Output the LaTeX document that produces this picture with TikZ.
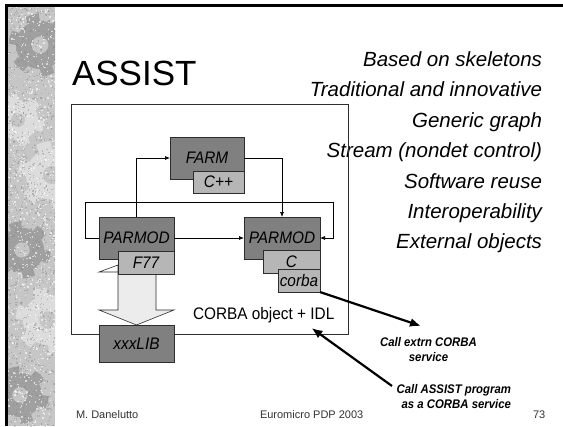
\documentclass[tikz,border=0pt]{standalone}
\usepackage{fontspec}
\setmainfont{Liberation Sans}
\newfontfamily\diagfont[FakeStretch=0.92]{Liberation Sans}
\newfontfamily\notefont[FakeStretch=0.91]{Liberation Sans}
\usetikzlibrary{arrows.meta}
\definecolor{boxdark}{RGB}{128,128,128}
\definecolor{boxlight}{RGB}{182,182,182}
\definecolor{shaft}{RGB}{236,236,236}
\definecolor{edge}{RGB}{45,45,45}
\definecolor{stripbase}{RGB}{198,198,198}
\definecolor{geardark}{RGB}{160,160,160}
\definecolor{gearlight}{RGB}{220,220,220}

% a toothed wheel for the decorative side strip: x, y, radius, colour
\newcommand{\cogwheel}[4]{%
  \fill[#4, shift={(#1,#2)}] plot[domain=0:360, samples=145]
    (\x:{#3+0.3*#3*(sin(6*\x)>0)}) -- cycle;
  \fill[stripbase, shift={(#1,#2)}] (0,0) circle ({0.35*#3});
}

\begin{document}
\begin{tikzpicture}[x=1bp, y=-1bp,
  every node/.style={inner sep=0pt, outer sep=0pt},
  modbox/.style={draw=edge, line width=0.7bp, fill=boxdark,
    font=\diagfont\fontsize{16.7bp}{18bp}\selectfont\itshape},
  langbox/.style={draw=edge, line width=0.7bp, fill=boxlight,
    font=\diagfont\fontsize{16.7bp}{18bp}\selectfont\itshape},
  flow/.style={draw=black, line width=0.7bp, -{Latex[length=5bp,width=4bp]}},
  callout/.style={draw=black, line width=2.2bp, -{Latex[length=11bp,width=9bp]}},
  bullet/.style={anchor=base east, font=\fontsize{20.5bp}{24bp}\selectfont\itshape},
  foot/.style={anchor=base west, font=\fontsize{11bp}{13bp}\selectfont, text=black!80}
]
\useasboundingbox (0,0) rectangle (563,426);
\fill[white] (0,0) rectangle (563,426);

% textured side strip
\begin{scope}
  \clip (7,6) rectangle (55,426);
  \fill[stripbase] (7,6) rectangle (55,426);
  \cogwheel{40}{45}{24}{geardark}
  \cogwheel{18}{120}{20}{gearlight}
  \cogwheel{52}{175}{26}{gearlight}
  \cogwheel{22}{250}{22}{geardark}
  \cogwheel{48}{320}{25}{gearlight}
  \cogwheel{20}{395}{22}{geardark}
  \pgfmathsetseed{7}
  \foreach \i in {1,...,1100}{
    \fill[black!45, opacity=0.45] ({7+48*rnd},{6+420*rnd}) rectangle ++(1.3,1.3);
  }
  \foreach \i in {1,...,800}{
    \fill[white, opacity=0.6] ({7+48*rnd},{6+420*rnd}) rectangle ++(1.3,1.3);
  }
\end{scope}

% slide frame
\draw[line width=2.5bp] (5,5.5) -- (563,5.5);
\draw[line width=2.5bp] (6.5,4.5) -- (6.5,426);

% title and bullet list
\node[anchor=base west, font=\fontsize{35bp}{40bp}\selectfont] (title) at (72,85) {ASSIST};
\node[bullet] (b1) at (542,66.5)  {Based on skeletons};
\node[bullet] (b2) at (542,96.5)  {Traditional and innovative};
\node[bullet] (b3) at (542,127)   {Generic graph};
\node[bullet] (b4) at (542,157.5) {Stream (nondet control)};
\node[bullet] (b5) at (542,188)   {Software reuse};
\node[bullet] (b6) at (542,218)   {Interoperability};
\node[bullet] (b7) at (542,248)   {External objects};

% program frame
\draw[edge, line width=0.8bp] (71,104) rectangle (348,334);

% block arrow from the F77 module down to the library
\draw[edge, fill=white, line width=0.6bp] (99,272) -- (118,265) -- (118,272) -- cycle;
\draw[edge, fill=shaft, line width=0.6bp]
  (118,272) -- (118,310) -- (99,310) -- (136.5,325) -- (174,310) -- (156,310) -- (156,272);

% modules
\node[modbox,  minimum width=74bp, minimum height=42bp] (farm) at (207,158)    {FARM};
\node[langbox, minimum width=51bp, minimum height=22bp] (cpp)  at (218.5,182)  {C++};
\node[modbox,  minimum width=75bp, minimum height=42bp] (pm1)  at (136.5,238)  {PARMOD};
\node[langbox, minimum width=56bp, minimum height=23bp] (f77)  at (146,262.5)  {F77};
\node[modbox,  minimum width=76bp, minimum height=42bp] (pm2)  at (282,238)    {PARMOD};
\node[langbox, minimum width=57bp, minimum height=23bp] (cl)   at (291.5,261.5){C};
\node[langbox, minimum width=42bp, minimum height=23bp] (corba) at (299,280.5) {corba};
\node[modbox,  minimum width=75bp, minimum height=37bp] (lib)  at (136.5,343.5){xxxLIB};

\node[anchor=base west, font=\diagfont\fontsize{16.7bp}{18bp}\selectfont] (idl) at (193,319) {CORBA object + IDL};

% data flow between modules
\coordinate (loopL) at (85,202);
\coordinate (loopR) at (333,202);
\draw[flow] (pm1.north) |- (farm.west);
\draw[flow] (farm.east) -| (pm2.north);
\draw[flow] (pm1.east) -- (pm2.west);
\draw[flow] (pm1.west) -| (loopL) -- (loopR) |- (pm2.east);

% external CORBA interaction
\node[font=\notefont\fontsize{12.5bp}{15.7bp}\selectfont\bfseries\itshape, align=center] (ext) at (428.5,349.4)
  {Call extrn CORBA\\service};
\node[font=\notefont\fontsize{12.5bp}{15bp}\selectfont\bfseries\itshape, align=right, anchor=east] (svc) at (511,396.3)
  {Call ASSIST program\\as a CORBA service};
\coordinate (extTip) at (421,326);
\coordinate (svcTail) at (392,386);
\coordinate (idlTip) at (311.5,328);
\draw[callout] (corba.south east) -- (extTip);
\draw[callout] (svcTail) -- (idlTip);

% footer
\node[foot] (author) at (76,418)  {M. Danelutto};
\node[foot] (conf)   at (260,418) {Euromicro PDP 2003};
\node[foot] (page)   at (533,418) {73};
\end{tikzpicture}
\end{document}
